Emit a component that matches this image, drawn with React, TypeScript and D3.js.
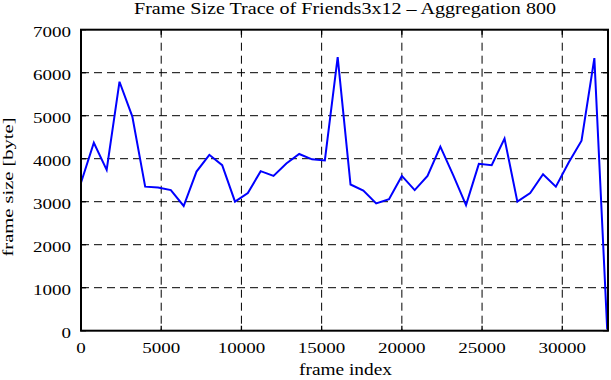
import React from "react";
import * as d3 from "d3";

// frame index (aggregation window of 800 frames)
const frameIndex = [
    0, 800, 1600, 2400, 3200, 4000, 4800, 5600, 6400, 7200,
    8000, 8800, 9600, 10400, 11200, 12000, 12800, 13600, 14400, 15200,
    16000, 16800, 17600, 18400, 19200, 20000, 20800, 21600, 22400, 23200,
    24000, 24800, 25600, 26400, 27200, 28000, 28800, 29600, 30400, 31200,
    32000, 32800,
];

// aggregated frame size in bytes
const frameSize = [
    3440, 4370, 3740, 5790, 4980, 3350, 3330, 3270, 2900, 3700,
    4090, 3850, 3000, 3200, 3710, 3600, 3890, 4110, 3985, 3960,
    6360, 3400, 3260, 2960, 3060, 3600, 3270, 3600, 4280, 3620,
    2920, 3880, 3850, 4470, 3000, 3200, 3640, 3350, 3910, 4420,
    6340, 30,
];

const xTicks = [0, 5000, 10000, 15000, 20000, 25000, 30000];
const yTicks = [0, 1000, 2000, 3000, 4000, 5000, 6000, 7000];

const W = 611;
const H = 380;
const left = 81;
const right = 608;
const top = 29.7;
const bottom = 330.7;
const font = '"Liberation Serif", "Times New Roman", Times, serif';

export default function App() {
    const x = d3.scaleLinear().domain([0, 32850]).range([left, right]);
    const y = d3.scaleLinear().domain([0, 7000]).range([bottom, top]);

    const pts = frameIndex.map((f, i) => [f, frameSize[i]] as [number, number]);
    const line = d3.line<[number, number]>()
        .x((d) => x(d[0]))
        .y((d) => y(d[1]));

    const charW = 9.5; // tick labels look horizontally stretched

    return (
        <svg
            width={W}
            height={H}
            style={{ position: "absolute", left: 0, top: 0, background: "#fff", fontFamily: font }}
        >
            <rect x={0} y={0} width={W} height={H} fill="#fff" />

            {/* grid */}
            {xTicks.filter((t) => t > 0).map((t) => (
                <line key={"gx" + t} x1={x(t)} x2={x(t)} y1={top} y2={bottom}
                    stroke="#000" strokeWidth={1} strokeDasharray="8,5" />
            ))}
            {yTicks.filter((t) => t > 0 && t < 7000).map((t) => (
                <line key={"gy" + t} x1={left} x2={right} y1={y(t)} y2={y(t)}
                    stroke="#000" strokeWidth={1} strokeDasharray="8,5" />
            ))}

            {/* ticks, mirrored on all sides */}
            {xTicks.map((t) => (
                <g key={"tx" + t}>
                    <line x1={x(t)} x2={x(t)} y1={bottom} y2={bottom - 5} stroke="#000" strokeWidth={1.3} />
                    <line x1={x(t)} x2={x(t)} y1={top} y2={top + 5} stroke="#000" strokeWidth={1.3} />
                </g>
            ))}
            {yTicks.map((t) => (
                <g key={"ty" + t}>
                    <line x1={left} x2={left + 5} y1={y(t)} y2={y(t)} stroke="#000" strokeWidth={1.3} />
                    <line x1={right} x2={right - 5} y1={y(t)} y2={y(t)} stroke="#000" strokeWidth={1.3} />
                </g>
            ))}

            {/* data */}
            <path d={line(pts) || ""} fill="none" stroke="#0000ff" strokeWidth={2} strokeLinejoin="miter" />

            {/* frame */}
            <rect x={left} y={top} width={right - left} height={bottom - top}
                fill="none" stroke="#000" strokeWidth={2} />

            {/* tick labels */}
            {xTicks.map((t) => (
                <text key={"lx" + t} x={x(t)} y={353} fontSize={15} textAnchor="middle"
                    textLength={String(t).length * charW} lengthAdjust="spacingAndGlyphs">
                    {t}
                </text>
            ))}
            {yTicks.map((t) => (
                <text key={"ly" + t} x={71} y={y(t) + 7} fontSize={15} textAnchor="end"
                    textLength={String(t).length * charW} lengthAdjust="spacingAndGlyphs">
                    {t}
                </text>
            ))}

            {/* titles */}
            <text x={345} y={14} fontSize={16} textAnchor="middle"
                textLength={422} lengthAdjust="spacingAndGlyphs">
                Frame Size Trace of Friends3x12 – Aggregation 800
            </text>
            <text x={345.5} y={375} fontSize={17} textAnchor="middle"
                textLength={93} lengthAdjust="spacingAndGlyphs">
                frame index
            </text>
            <text transform="translate(12.5,187) rotate(-90)" fontSize={15} textAnchor="middle"
                textLength={139} lengthAdjust="spacingAndGlyphs">
                frame size [byte]
            </text>
        </svg>
    );
}
